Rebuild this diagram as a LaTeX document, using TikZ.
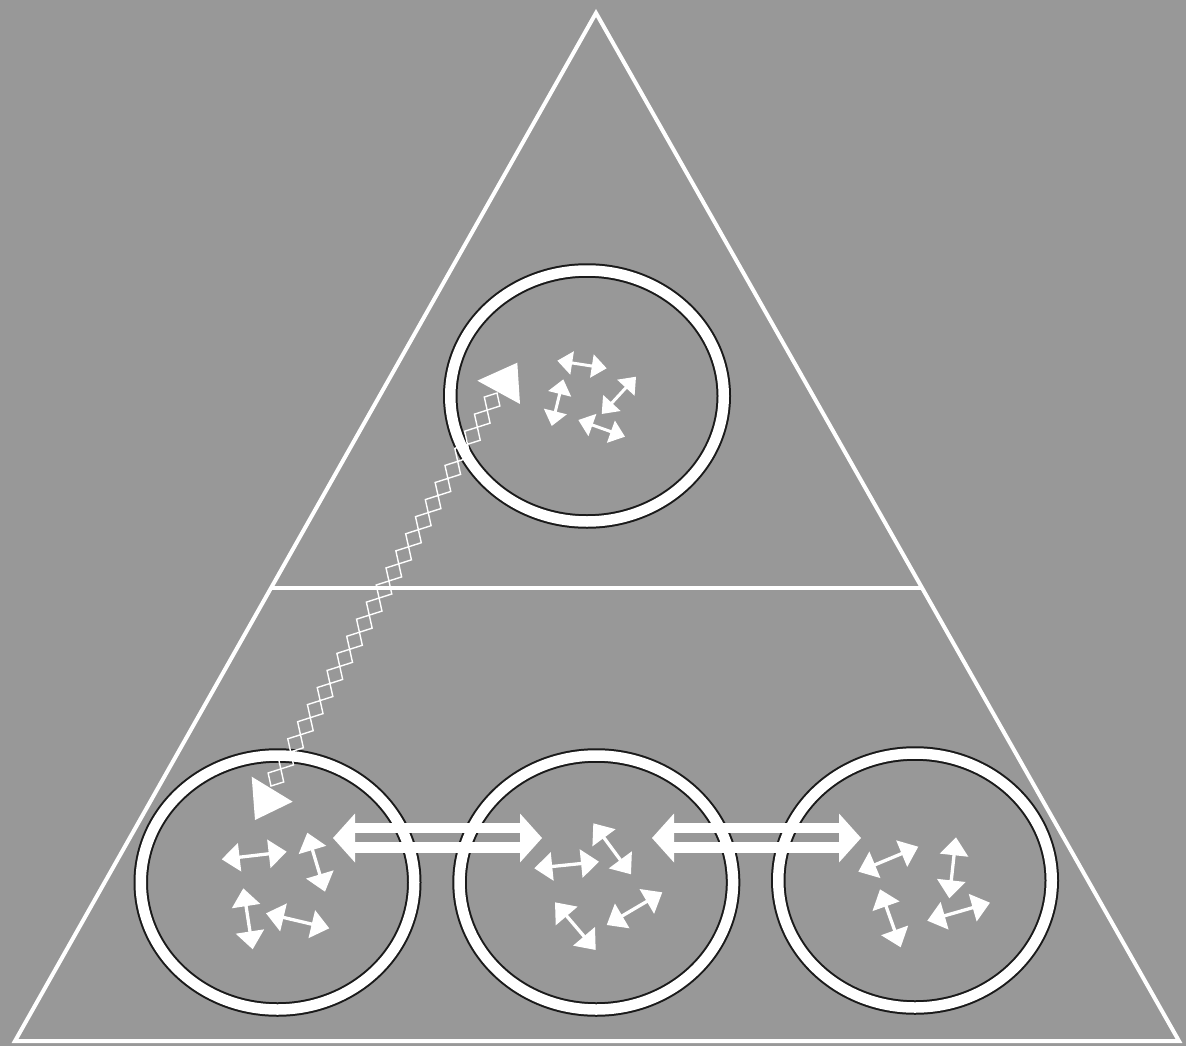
\documentclass[tikz,border=0pt]{standalone}
\usetikzlibrary{arrows.meta,calc,shapes.geometric}
\definecolor{bg}{HTML}{989898}
\definecolor{ringline}{HTML}{1A1A1A}
\begin{document}
\begin{tikzpicture}[x=1pt,y=-1pt,
  ring/.style={ellipse, draw=ringline, line width=2pt, double=white,
    double distance=10.5pt, minimum width=273.5pt, inner sep=0pt, outer sep=0pt},
  frame/.style={white, line width=4pt, line join=miter},
  smallA/.style={white, line width=3pt, {Triangle[length=15pt,width=23pt]}-{Triangle[length=15pt,width=23pt]}},
  smallB/.style={white, line width=3.3pt, {Triangle[length=18pt,width=28pt]}-{Triangle[length=18pt,width=28pt]}},
  chain/.style={white, line width=1.4pt, line join=miter}
]
% background
\fill[bg] (0,0) rectangle (1186,1046);
\useasboundingbox (0,0) rectangle (1186,1046);

% triangle frame
\coordinate (apex) at (596,13);
\coordinate (bl) at (15,1041);
\coordinate (br) at (1179,1041);
\draw[frame] (apex) -- (bl) -- (br) -- cycle;
\coordinate (hl) at ($(apex)!0.5598!(bl)$);
\coordinate (hr) at ($(apex)!0.5598!(br)$);
\draw[white, line width=4pt] (hl) -- (hr);

% rings
\node[ring, minimum height=251pt] (top) at (587,396) {};
\node[ring, minimum height=254pt] (left) at (277.5,882.5) {};
\node[ring, minimum height=254pt] (mid) at (596.3,882.5) {};
\node[ring, minimum height=254pt] (right) at (915,880.5) {};

% big double arrows
\foreach \n/\xa/\xb in {1/333/542, 2/652/861}{
  \coordinate (big\n L) at (\xa,838);
  \coordinate (big\n R) at (\xb,838);
  \fill[white] (big\n L) -- ([shift={(22,-24.5)}]big\n L) -- ([shift={(22,24.5)}]big\n L) -- cycle;
  \fill[white] (big\n R) -- ([shift={(-22,-24.5)}]big\n R) -- ([shift={(-22,24.5)}]big\n R) -- cycle;
  \draw[white, line width=10pt] ([shift={(21,-10)}]big\n L) -- ([shift={(-21,-10)}]big\n R);
  \draw[white, line width=11pt] ([shift={(21,9.5)}]big\n L) -- ([shift={(-21,9.5)}]big\n R);
}

% chain of diamonds between lower-left and top rings
\coordinate (zs) at (271,786);
\coordinate (ze) at (497,393);
\foreach \i in {0,...,22}{
  \draw[chain] ($(zs)!{\i/23}!(ze)$)
    -- ($(zs)!{(\i+0.5)/23}!(ze)!9pt!90:(ze)$)
    -- ($(zs)!{(\i+1)/23}!(ze)$)
    -- ($(zs)!{(\i+0.5)/23}!(ze)!9pt!-90:(ze)$) -- cycle;
}
\fill[white] (477.3,380.7) -- (517.3,362.7) -- (520,404) -- cycle;
\fill[white] (251.7,776.7) -- (292.7,801.7) -- (255,820) -- cycle;

% small double arrows, top ring
\foreach \n/\xa/\ya/\xb/\yb in {
  1/557.3/360.7/606.7/368.3,
  2/563.3/379.3/551.7/426,
  3/636/376.7/601.7/414,
  4/578.3/420/625/436.7}{
  \coordinate (s\n a) at (\xa,\ya);
  \coordinate (s\n b) at (\xb,\yb);
  \draw[smallA] (s\n a) -- (s\n b);
}
% small double arrows, bottom rings
\foreach \n/\xa/\ya/\xb/\yb in {
  5/221.7/859.3/286.7/851.7,
  6/307.3/832.7/325/891.7,
  7/243.3/888.3/252.7/949.3,
  8/266/913.3/329.3/928.3,
  9/534.3/868.3/599/861.7,
  10/593.3/823.3/631/874.3,
  11/606.7/925/662.3/892.3,
  12/555/902.3/595.7/950,
  13/858.3/871.7/918.3/846.7,
  14/956/837.3/949.3/898.3,
  15/880/889.3/900.7/947.3,
  16/927.3/920.7/990/902.7}{
  \coordinate (s\n a) at (\xa,\ya);
  \coordinate (s\n b) at (\xb,\yb);
  \draw[smallB] (s\n a) -- (s\n b);
}
\end{tikzpicture}
\end{document}
